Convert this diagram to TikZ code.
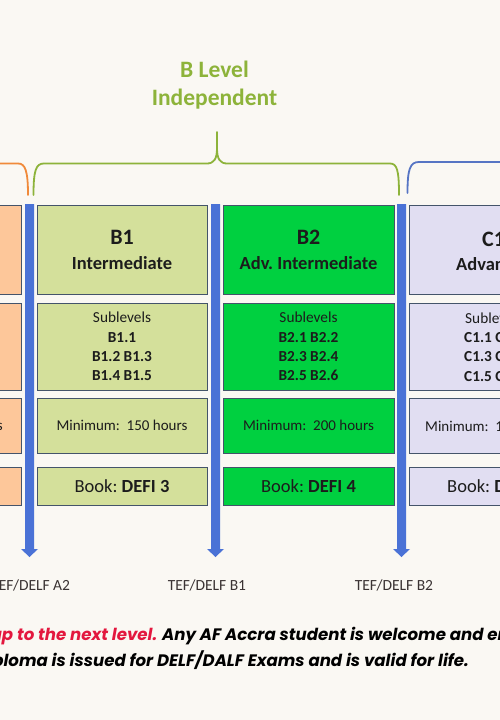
\documentclass[tikz,border=0pt]{standalone}
\usepackage{fontspec}
\setmainfont{Carlito}
\newfontfamily\notefont{Poppins}
\definecolor{bgc}{HTML}{FAF8F3}
\definecolor{bordc}{HTML}{44546A}
\definecolor{txtc}{HTML}{1C1C1C}
\definecolor{orfill}{HTML}{FDC79A}
\definecolor{bonefill}{HTML}{D4E09B}
\definecolor{btwofill}{HTML}{00D040}
\definecolor{conefill}{HTML}{E1DEF2}
\definecolor{barc}{HTML}{4A72D6}
\definecolor{bracegreen}{HTML}{8DB33A}
\definecolor{braceorange}{HTML}{F08A3A}
\definecolor{braceblue}{HTML}{5675C4}
\definecolor{examc}{HTML}{3A3333}
\definecolor{notered}{HTML}{E3173E}
\tikzset{
  cell/.style={draw=bordc, line width=0.8pt, minimum width=170pt, align=center, inner sep=0pt, text=txtc},
  rowone/.style={cell, minimum height=89pt, font=\fontsize{18.5}{25}\selectfont\bfseries},
  rowtwo/.style={cell, minimum height=87pt, font=\fontsize{15.3}{19.3}\selectfont},
  rowthree/.style={cell, minimum height=55pt, font=\fontsize{15}{18}\selectfont},
  rowfour/.style={cell, minimum height=38pt, font=\fontsize{18.5}{22}\selectfont},
  plain/.style={inner sep=0pt, text=txtc},
  exam/.style={inner sep=0pt, text=examc, font=\fontsize{15.5}{18}\selectfont},
  bracepath/.style={line width=1.8pt, line cap=round, line join=round},
  note/.style={inner sep=0pt, font=\fontsize{16.6}{20}\selectfont\notefont\bfseries\itshape},
  bararrow/.pic={\fill[barc] (-4.5,0) -- (4.5,0) -- (4.5,345) -- (8.5,345) -- (0,353) -- (-8.5,345) -- (-4.5,345) -- cycle;}
}
\begin{document}
\begin{tikzpicture}[x=1pt,y=-1pt]
\useasboundingbox (0,0) rectangle (500,720);
\fill[bgc] (0,0) rectangle (500,720);
\begin{scope}
\clip (0,0) rectangle (500,720);

% title
\node[inner sep=0pt, align=center, text=bracegreen, font=\fontsize{23.5}{28}\selectfont\bfseries] (title) at (214.5,85) {B Level\\Independent};

% braces
\draw[bracepath, braceorange] (-10,163.5) -- (18,163.5) .. controls (25,163.5) and (28,170) .. (28,195);
\draw[bracepath, bracegreen] (33.5,195) .. controls (33.5,170) and (36,163.5) .. (44,163.5) -- (207,163.5)
  .. controls (214,163.5) and (217,159) .. (217,148) -- (217,132) -- (217,148)
  .. controls (217,159) and (220,163.5) .. (227,163.5) -- (390,163.5)
  .. controls (397,163.5) and (399,170) .. (399,195);
\draw[bracepath, braceblue] (407.5,193) .. controls (407.5,169) and (410,162) .. (419,162) -- (510,162);

% orange column (A2)
\node[rowone, fill=orfill] (aone) at (-64,249.5) {};
\node[rowtwo, fill=orfill] (atwo) at (-64,346.5) {};
\node[rowthree, fill=orfill] (athree) at (-64,425.8) {};
\node[rowfour, fill=orfill] (afour) at (-64,486) {};
\node[plain, anchor=east, font=\fontsize{15}{18}\selectfont] (ahours) at (3,426.5) {s};

% B1 column
\node[rowone, fill=bonefill] (bone) at (122,249.5) {{\fontsize{22}{25}\selectfont B1}\\Intermediate};
\node[rowtwo, fill=bonefill] (btwo) at (122,346.5) {Sublevels\\\textbf{B1.1}\\\textbf{B1.2 B1.3}\\\textbf{B1.4 B1.5}};
\node[rowthree, fill=bonefill] (bthree) at (122,425.8) {Minimum:\ \ 150 hours};
\node[rowfour, fill=bonefill] (bfour) at (122,486) {Book:\ \textbf{DEFI 3}};

% B2 column
\node[rowone, fill=btwofill, minimum width=171pt] (cone) at (308.5,249.5) {{\fontsize{22}{25}\selectfont B2}\\Adv.\ Intermediate};
\node[rowtwo, fill=btwofill, minimum width=171pt] (ctwo) at (308.5,346.5) {Sublevels\\\textbf{B2.1 B2.2}\\\textbf{B2.3 B2.4}\\\textbf{B2.5 B2.6}};
\node[rowthree, fill=btwofill, minimum width=171pt] (cthree) at (308.5,425.8) {Minimum:\ \ 200 hours};
\node[rowfour, fill=btwofill, minimum width=171pt] (cfour) at (308.5,486) {Book:\ \textbf{DEFI 4}};

% C1 column
\node[rowone, fill=conefill, minimum width=171pt] (done) at (494.5,249.5) {};
\node[rowtwo, fill=conefill, minimum width=171pt] (dtwo) at (494.5,346.5) {};
\node[rowthree, fill=conefill, minimum width=171pt] (dthree) at (494.5,425.8) {};
\node[rowfour, fill=conefill, minimum width=171pt] (dfour) at (494.5,486) {};
\node[plain, anchor=west, font=\fontsize{22}{25}\selectfont\bfseries] (dhead) at (482,239) {C1};
\node[plain, anchor=west, font=\fontsize{18.5}{22}\selectfont\bfseries] (dname) at (456,264) {Advan};
\node[plain, anchor=west, font=\fontsize{15.3}{18}\selectfont] (dsub) at (465,318) {Subleve};
\node[plain, anchor=west, font=\fontsize{15.3}{18}\selectfont\bfseries] (dsa) at (464,337.5) {C1.1 C};
\node[plain, anchor=west, font=\fontsize{15.3}{18}\selectfont\bfseries] (dsb) at (464,357) {C1.3 C};
\node[plain, anchor=west, font=\fontsize{15.3}{18}\selectfont\bfseries] (dsc) at (464,376.3) {C1.5 C};
\node[plain, anchor=west, font=\fontsize{15}{18}\selectfont] (dmin) at (425,426.5) {Minimum:\ \ 1};
\node[plain, anchor=west, font=\fontsize{18.5}{22}\selectfont] (dbook) at (447,486.5) {Book:\ \textbf{D}};

% level arrows
\pic at (29.5,204) {bararrow};
\pic at (215.5,204) {bararrow};
\pic at (401.5,204) {bararrow};

% exam labels
\node[exam] (exa) at (30.7,585) {TEF/DELF A2};
\node[exam] (exb) at (207,585) {TEF/DELF B1};
\node[exam] (exc) at (394,585) {TEF/DELF B2};

% note
\node[note, text=notered, anchor=base east] (nred) at (157.5,640.5) {up to the next level.};
\node[note, text=black, anchor=base west] (nblack) at (162,640.5) {Any AF Accra student is welcome and en};
\node[note, text=black, anchor=base east] (nline) at (469,666) {ploma is issued for DELF/DALF Exams and is valid for life.};
\end{scope}
\end{tikzpicture}
\end{document}
